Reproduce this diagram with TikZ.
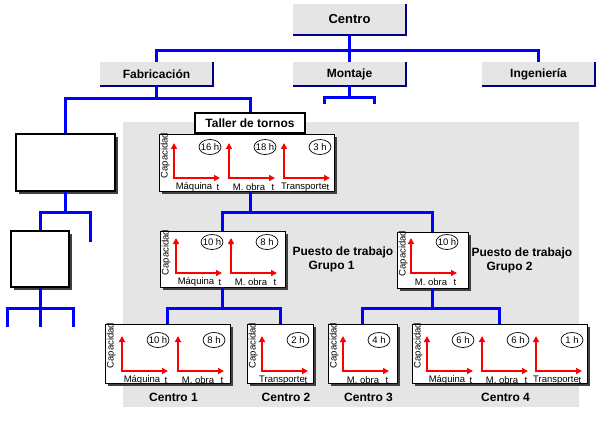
\documentclass[tikz,border=0pt]{standalone}
\usepackage{fontspec}
\setmainfont{Liberation Sans}
\usepackage{tikz}
\usetikzlibrary{arrows.meta, positioning, calc, shadows, shapes.geometric}
\usepackage{xcolor}
\definecolor{azul}{RGB}{0, 0, 255}
\definecolor{marino}{RGB}{0, 0, 128}
\definecolor{grisclaro}{RGB}{229, 229, 229}
\definecolor{sombra}{RGB}{64, 64, 64}
\definecolor{rojo}{RGB}{255, 0, 0}
\tikzset{
  orgbox/.style={
    fill=grisclaro, minimum width=113pt, minimum height=24pt,
    font=\fontsize{12}{14}\selectfont\bfseries, inner sep=0pt
  },
  borde/.style={marino, line width=2.5pt},
  bus/.style={azul, line width=3pt},
  vacia/.style={
    draw, line width=1.2pt, fill=white, inner sep=0pt,
    drop shadow={shadow xshift=3pt, shadow yshift=-3pt, opacity=1, fill=sombra}
  },
  grafbox/.style={
    draw, line width=0.8pt, fill=white, inner sep=0pt,
    drop shadow={shadow xshift=3pt, shadow yshift=-3pt, opacity=1, fill=sombra}
  },
  capac/.style={rotate=90, anchor=north east, inner sep=0pt, font=\fontsize{9.5}{10}\selectfont},
  eje/.style={rojo, line width=2pt, {Triangle[length=6pt,width=6pt]}-{Triangle[length=6pt,width=6pt]}},
  horas/.style={inner sep=0pt, font=\fontsize{9.5}{10}\selectfont},
  elipse/.style={line width=0.7pt},
  etiq/.style={inner sep=0pt, font=\fontsize{9.5}{10}\selectfont},
  titulo/.style={inner sep=0pt, font=\fontsize{12}{14}\selectfont\bfseries},
}
% una grafica: nombre, origen, horas, etiqueta
\newcommand{\grafica}[4]{%
  \coordinate (#1) at (#2);
  \draw[eje] ($(#1)+(0,-35)$) -- (#1) -- ++(46,0);
  \node[horas] (#1h) at ($(#1)+(36,-31)$) {#3};
  \draw[elipse] (#1h.center) ellipse [x radius=11, y radius=7.5];
  \node[etiq] (#1e) at ($(#1)+(20,9)$) {#4};
  \node[etiq] (#1t) at ($(#1)+(44,9)$) {t};
}

\begin{document}
\begin{tikzpicture}[x=1pt, y=-1pt]

\useasboundingbox (0,0) rectangle (596,422);

% Zona del taller
\fill[grisclaro] (123,122) rectangle (579,407);

% Organigrama
\node[orgbox, minimum height=31pt, font=\fontsize{13}{15}\selectfont\bfseries] (centro) at (349.5,19.5) {Centro};
\node[orgbox] (fab) at (156.5,74) {Fabricación};
\node[orgbox] (mon) at (349.5,74) {Montaje};
\node[orgbox] (ing) at (538.5,74) {Ingeniería};
\foreach \n in {centro, fab, mon, ing}
  \draw[borde] (\n.south west) -- (\n.south east) -- (\n.north east);

% Cajas vacias a la izquierda
\node[vacia, minimum width=99pt, minimum height=57pt] (cajaA) at (65.5,162.5) {};
\node[vacia, minimum width=58pt, minimum height=56pt] (cajaB) at (40,259) {};

% Cajas de graficas
\node[grafbox, minimum width=175pt, minimum height=57pt] (tchart) at (246.5,162.5) {};
\node[draw, line width=1.5pt, fill=white, minimum width=110pt, minimum height=20pt,
      inner sep=0pt, font=\fontsize{12}{14}\selectfont\bfseries] (taller) at (250,123) {Taller de tornos};
\node[grafbox, minimum width=125pt, minimum height=56pt] (g1) at (222.5,259) {};
\node[grafbox, minimum width=71pt, minimum height=56pt] (g2) at (432.5,260) {};
\node[grafbox, minimum width=125pt, minimum height=59pt] (c1) at (167.5,353.5) {};
\node[grafbox, minimum width=66pt, minimum height=59pt] (c2) at (280,353.5) {};
\node[grafbox, minimum width=69pt, minimum height=59pt] (c3) at (362.5,353.5) {};
\node[grafbox, minimum width=175pt, minimum height=59pt] (c4) at (499.5,353.5) {};

\foreach \n in {tchart, g1, g2, c1, c2, c3, c4}
  \node[capac] (\n cap) at ([xshift=2pt, yshift=1pt]\n.north west) {Capacidad};

% Graficas
\grafica{t1}{174,178}{16 h}{Máquina}
\grafica{t2}{229,178}{18 h}{M. obra}
\grafica{t3}{284,178}{3 h}{Transporte}
\grafica{ga1}{176,273}{10 h}{Máquina}
\grafica{ga2}{231,273}{8 h}{M. obra}
\grafica{gb1}{411,273}{10 h}{M. obra}
\grafica{ca1}{122,371}{10 h}{Máquina}
\grafica{ca2}{178,371}{8 h}{M. obra}
\grafica{cb1}{262,371}{2 h}{Transporte}
\grafica{cc1}{343,371}{4 h}{M. obra}
\grafica{cd1}{427,371}{6 h}{Máquina}
\grafica{cd2}{482,371}{6 h}{M. obra}
\grafica{cd3}{536,371}{1 h}{Transporte}

% Textos
\node[titulo, anchor=west, align=left, right=7pt of g1] (pt1) {Puesto de trabajo\\\hspace*{16pt}Grupo 1};
\node[titulo, anchor=west, align=left, right=3pt of g2] (pt2) {Puesto de trabajo\\\hspace*{15pt}Grupo 2};
\node[titulo, below=10pt of c1, xshift=6pt] (n1) {Centro 1};
\node[titulo, below=10pt of c2, xshift=6pt] (n2) {Centro 2};
\node[titulo, below=10pt of c3, xshift=6pt] (n3) {Centro 3};
\node[titulo, below=10pt of c4, xshift=6pt] (n4) {Centro 4};

% Conexiones
\draw[bus] (centro.south) -- ++(0,15) coordinate (b1);
\draw[bus] (fab.north) |- (b1) -| (ing.north);
\draw[bus] (b1) -- (mon.north);

\draw[bus] (fab.south) -- ++(0,12) coordinate (b2);
\draw[bus] (cajaA.north) |- (b2) -| (taller.north);

\coordinate (m1) at (324,104);
\coordinate (m2) at (374,104);
\draw[bus] (mon.south) -- ++(0,11) coordinate (b3);
\draw[bus] (m1) |- (b3) -| (m2);

\coordinate (a2) at (90,242);
\draw[bus] (cajaA.south) -- ++(0,21) coordinate (b4);
\draw[bus] (cajaB.north) |- (b4) -| (a2);

\coordinate (d1) at (7,327);
\coordinate (d2) at (40,327);
\coordinate (d3) at (73,327);
\draw[bus] (cajaB.south) -- ++(0,21) coordinate (b5);
\draw[bus] (b5) -- (d2);
\draw[bus] (d1) |- (b5) -| (d3);

\draw[bus] (taller.north |- tchart.south) -- ++(0,21) coordinate (b6);
\draw[bus] (g1.north) |- (b6) -| (g2.north);

\draw[bus] (g1.south) -- ++(0,21) coordinate (b7);
\draw[bus] (c1.north) |- (b7) -| (c2.north);

\draw[bus] (g2.south) -- ++(0,20) coordinate (b8);
\draw[bus] (c3.north) |- (b8) -| (c4.north);

\end{tikzpicture}
\end{document}
